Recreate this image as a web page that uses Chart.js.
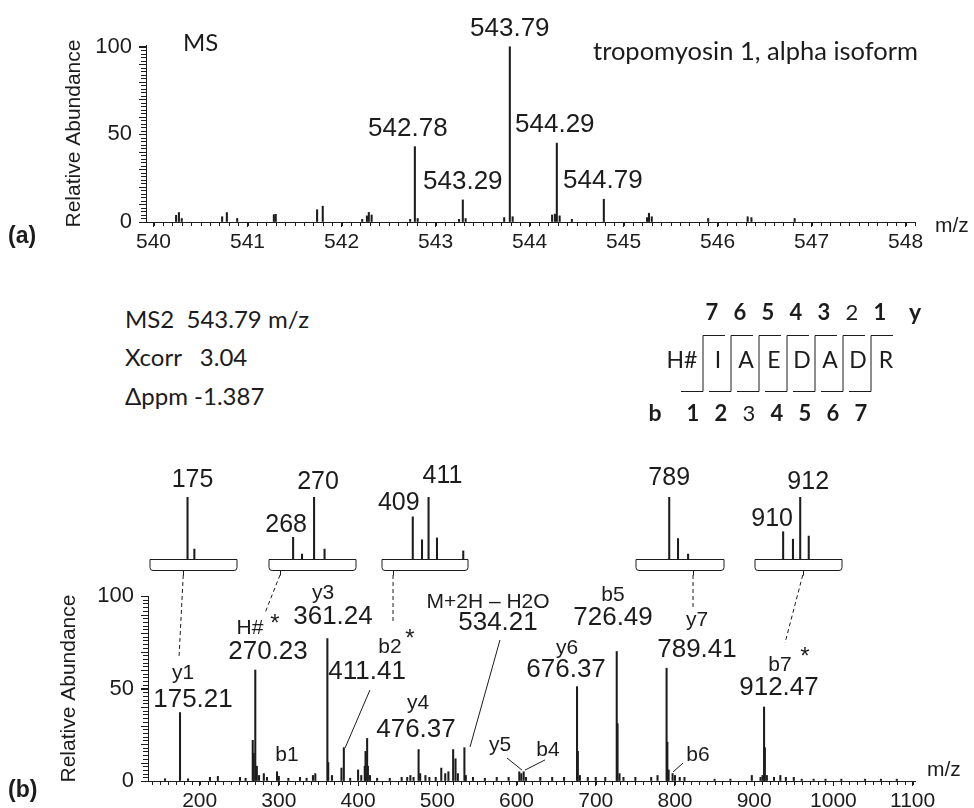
<!DOCTYPE html>
<html>
<head>
<meta charset="utf-8">
<script src="https://cdn.jsdelivr.net/npm/chart.js@4.4.1/dist/chart.umd.min.js"></script>
<style>
  body { margin: 0; background: #fff; }
  #page { position: relative; width: 974px; height: 808px; overflow: hidden; color: #1c1c1c; font-family: Lato, sans-serif; }
  canvas { position: absolute; }
  .info { position: absolute; left: 125px; font-size: 24px; line-height: 24px; white-space: pre; }
  svg { position: absolute; left: 0; top: 0; }
</style>
</head>
<body>
<div id="page">
  <canvas id="ms1" width="974" height="262" style="left:0;top:0"></canvas>
  <canvas id="ms2" width="974" height="368" style="left:0;top:440px"></canvas>

  <div class="info" style="top:307px">MS2  543.79 m/z</div>
  <div class="info" style="top:345px">Xcorr   3.04</div>
  <div class="info" style="top:384px">Δppm -1.387</div>
  <svg id="seq" width="974" height="440"></svg>
</div>

<script>
// ---- MS survey scan (a) ----
const ms1Mz  = [540.24, 540.27, 540.30, 540.73, 540.78, 540.89, 541.28, 541.30, 541.74, 541.80,
                542.22, 542.27, 542.29, 542.32, 542.73, 542.78, 542.81, 543.25, 543.29, 543.32,
                543.73, 543.79, 543.82, 544.24, 544.27, 544.29, 544.32, 544.45, 544.79, 545.25,
                545.27, 545.30, 545.90, 546.32, 546.36, 546.82]
const ms1Int = [3.8, 5.4, 2.0, 3.0, 5.4, 2.0, 4.2, 4.4, 7.0, 9.0,
                1.5, 3.5, 5.5, 4.0, 1.5, 43, 2.0, 1.5, 12.6, 2.0,
                2.5, 100, 3.0, 4.0, 4.5, 45, 3.5, 1.5, 13, 2.5,
                5.0, 3.0, 2.0, 3.0, 2.5, 2.0]
const ms1LabelMz = [542.78, 543.29, 543.79, 544.29, 544.79]
const ms1XTicks = [540, 541, 542, 543, 544, 545, 546, 547, 548]
const yTicks = [0, 50, 100]

// ---- MS2 spectrum (b) ----
const ms2Mz  = [156.3, 175.21, 185.3, 213, 223, 251, 258, 267, 268.2, 270.23,
                272.2, 275, 281, 285, 297.7, 300, 312, 326.7, 335, 343,
                346, 361.24, 362.3, 367, 379, 382, 390, 400, 404, 408.4,
                409.4, 411.41, 412.4, 415, 424, 440, 455, 462, 466, 470,
                476.37, 478.4, 485, 490, 498, 505, 510, 514, 520, 523,
                526, 534.21, 536, 545, 560, 575, 590, 603.5, 606, 609,
                612, 630, 645, 660, 676.37, 677.4, 680, 690, 700, 712,
                726.49, 727.5, 730, 735, 750, 770, 778, 789.41, 790.4, 792,
                797, 800, 806, 812, 850, 870, 897, 908, 910.5, 912.47,
                913.5, 916, 925, 933, 940, 950, 960, 975, 990, 1010,
                1040, 1060, 1080]
const ms2Int = [1.2, 37, 1.2, 2, 2.5, 2, 1.5, 22, 15, 60,
                8, 3, 4, 2, 5, 2.5, 1.5, 2, 1.5, 3,
                4, 77, 10, 3, 7, 18, 1.5, 6, 3, 8,
                16, 23, 8, 3, 1.5, 1.5, 2, 2, 3, 2,
                17, 4, 3, 2, 2, 7, 4, 5, 17, 12,
                4, 18, 3, 2, 1.5, 2, 2, 5, 4, 5,
                2, 2, 2, 2, 51, 16, 3, 2, 2, 2,
                70, 31, 4, 2, 2, 2, 3, 61, 21, 6,
                4, 3, 2, 2, 1, 1, 3, 2, 3, 40,
                18, 3, 2, 3, 2, 2, 1, 1, 1, 1,
                1, 1, 1]
const ms2XTicks = [200, 300, 400, 500, 600, 700, 800, 900, 1000, 1100]

// annotations: text, anchor m/z, anchor abundance, kind
const ms2Notes = [
  ['175.21', 191.6, 43.8, 'num'], ['y1', 179.0, 58.4, 'ion'],
  ['270.23', 286.3, 69.7, 'num'], ['H#', 263.6, 82.7, 'ion'], ['*', 295.1, 87.0, 'star'],
  ['b1', 310.3, 14.1, 'ion'],
  ['361.24', 368.3, 88.6, 'num'], ['y3', 355.7, 101.6, 'ion'],
  ['411.41', 411.3, 58.9, 'num'], ['b2', 440.3, 72.4, 'ion'], ['*', 465.5, 78.9, 'star'],
  ['476.37', 473.1, 27.6, 'num'], ['y4', 475.6, 42.2, 'ion'],
  ['534.21', 576.6, 85.4, 'num'], ['M+2H \u2013 H2O', 564.0, 96.8, 'ion'],
  ['y5', 579.1, 19.5, 'ion'], ['b4', 639.7, 16.8, 'ion'],
  ['676.37', 662.5, 60.0, 'num'], ['y6', 663.7, 71.9, 'ion'],
  ['726.49', 721.8, 88.1, 'num'], ['b5', 721.8, 100.5, 'ion'],
  ['789.41', 827.8, 70.8, 'num'], ['y7', 827.8, 87.0, 'ion'],
  ['b6', 829.1, 14.1, 'ion'],
  ['912.47', 931.3, 50.3, 'num'], ['b7', 932.6, 62.7, 'ion'], ['*', 964.2, 69.2, 'star']
]
// leader lines [mz1, ab1, mz2, ab2]
const ms2Leaders = [
  [415.0, 49.2, 383.5, 17.8],
  [579.1, 76.2, 541.3, 18.4],
  [588.0, 12.4, 606.9, 5.9],
  [636.0, 11.4, 610.7, 5.9],
  [810.2, 9.7, 797.6, 4.9]
]

// ---- zoomed insets ----
const insetMz  = [[175.0, 175.8], [268.0, 268.85, 270.0, 271.0], [409.0, 410.17, 411.0, 412.07, 415.4],
                  [789.0, 789.98, 791.1], [910.0, 911.15, 912.0, 913.0]]
const insetInt = [[100, 16], [35, 8, 100, 16], [68, 31, 100, 34, 13], [100, 33, 8], [44, 32, 100, 37]]
const insetRange = [[170.6, 180.8], [265.7, 274.0], [405.1, 416.0], [785.3, 795.1], [906.7, 916.9]]
const insetTagMz = [[175], [268, 270], [409, 411], [789], [910, 912]]
const insetTickMz = [174.5, 266.75, 406.5, 791.65, 912.3]
const insetTarget = [[173.9, 66.5], [282.5, 90.8], [444.1, 85.4], [822.8, 94.1], [938.9, 74.6]]

// ---- peptide ----
const residues = ['I', 'A', 'E', 'D', 'A', 'D', 'R']
const yIons = [7, 6, 5, 4, 3, 2, 1]
const yFound = [7, 6, 5, 4, 3, 1]
const bIons = [1, 2, 3, 4, 5, 6, 7]
const bFound = [1, 2, 4, 5, 6, 7]

// layout bits (pixels)
const insetBox = [[150, 237], [269, 356], [382, 468], [636, 724], [755, 842]]
const insetTagOff = [[[5, -17]], [[-7, -12], [4, -15]], [[-14, -14], [14, -21]], [[0, -19]], [[-11, -13], [8, -15]]]
const ms1LabelDx = [-7, 0, 0, -2, -1]

const INK = '#1c1c1c'
const ARIAL = "'Liberation Sans', Arial, sans-serif"
Chart.defaults.font.family = ARIAL
Chart.defaults.color = INK

function text(ctx, s, x, y, size, opts = {}) {
  ctx.save()
  ctx.font = (opts.bold ? 'bold ' : '') + size + 'px ' + (opts.family || ARIAL)
  ctx.fillStyle = INK
  ctx.textAlign = opts.align || 'center'
  ctx.textBaseline = opts.baseline || 'middle'
  ctx.fillText(s, x, y)
  ctx.restore()
}

function seg(ctx, x1, y1, x2, y2, dash) {
  ctx.save()
  ctx.strokeStyle = INK
  ctx.lineWidth = 1
  if (dash) ctx.setLineDash(dash)
  ctx.beginPath()
  ctx.moveTo(x1, y1)
  ctx.lineTo(x2, y2)
  ctx.stroke()
  ctx.restore()
}

// small ticks between the labelled ones
function minorTicks(ctx, scale, values, len, longEvery, longLen) {
  values.forEach((v, i) => {
    if (v < scale.min || v > scale.max) return
    const l = (longEvery && i % longEvery === 0) ? longLen : len
    if (scale.isHorizontal()) {
      const x = Math.round(scale.getPixelForValue(v)) + 0.5
      seg(ctx, x, scale.top, x, scale.top + l)
    } else {
      const y = Math.round(scale.getPixelForValue(v)) + 0.5
      seg(ctx, scale.right - l, y, scale.right, y)
    }
  })
}

function range(a, b, step) {
  const out = []
  for (let i = 0; a + i * step <= b + 1e-9; i++) out.push(+(a + i * step).toFixed(4))
  return out
}

function specScales(xMin, xMax, xTicks, yMax, yWidth, xHeight, titlePad) {
  return {
    x: {
      type: 'linear', min: xMin, max: xMax, offset: false,
      afterBuildTicks: s => { s.ticks = xTicks.map(v => ({ value: v })) },
      afterFit: s => { s.height = xHeight },
      ticks: { font: { size: 21 }, padding: 3, maxRotation: 0, autoSkip: false, callback: v => String(v) },
      grid: { display: true, drawOnChartArea: false, tickLength: 5, color: INK, offset: false },
      border: { display: true, color: INK, width: 1 }
    },
    y: {
      min: 0, max: yMax,
      afterBuildTicks: s => { s.ticks = yTicks.map(v => ({ value: v })) },
      afterFit: s => { s.width = yWidth },
      ticks: { font: { size: 22 }, padding: 7 },
      grid: { display: true, drawOnChartArea: false, tickLength: 7, color: INK },
      border: { display: true, color: INK, width: 1 },
      title: { display: true, text: 'Relative Abundance', font: { size: 21 }, color: INK, padding: { top: titlePad, bottom: 0 } }
    }
  }
}

function sticks(mz, ab) {
  return [{ data: mz.map((x, i) => ({ x, y: ab[i] })), backgroundColor: INK, barThickness: 1.4, grouped: false }]
}

// ---------- (a) ----------
const ms1Decor = {
  id: 'ms1Decor',
  afterDraw(chart) {
    const { ctx, scales: { x, y }, chartArea } = chart
    minorTicks(ctx, x, range(539.9, 548.1, 0.1), 4)
    minorTicks(ctx, y, range(0, 100, 2), 5, 5, 7)
    ms1LabelMz.forEach((mz, i) => {
      const k = ms1Mz.indexOf(mz)
      const px = x.getPixelForValue(mz) + ms1LabelDx[i]
      const py = y.getPixelForValue(ms1Int[k]) - 11
      text(ctx, mz.toFixed(2), px, py, 26, { baseline: 'alphabetic' })
    })
    text(ctx, 'MS', 183, 43, 24, { align: 'left', family: 'Lato, sans-serif' })
    text(ctx, 'tropomyosin 1, alpha isoform', 593, 52, 25.5, { align: 'left', family: 'Lato, sans-serif' })
    text(ctx, 'm/z', chartArea.right + 20, 226, 21, { align: 'left' })
    text(ctx, '(a)', 8, 237, 23, { align: 'left', bold: true })
  }
}

new Chart(document.getElementById('ms1'), {
  type: 'bar',
  data: { datasets: sticks(ms1Mz, ms1Int) },
  options: {
    responsive: false, animation: false,
    layout: { padding: { top: 45, right: 59, left: 0, bottom: 0 } },
    plugins: { legend: { display: false }, tooltip: { enabled: false } },
    scales: specScales(539.92, 548.1, ms1XTicks, 101, 146, 40, 62)
  },
  plugins: [ms1Decor]
})

// ---------- insets ----------
const insetCharts = insetMz.map((mz, n) => {
  const [l, r] = insetBox[n]
  const cv = document.createElement('canvas')
  cv.width = r - l + 50
  cv.height = 125
  cv.style.left = (l - 25) + 'px'
  cv.style.top = '455px'
  document.getElementById('page').appendChild(cv)
  const decor = {
    id: 'insetDecor',
    afterDraw(chart) {
      const { ctx, chartArea: ca, scales: { x, y } } = chart
      const b = ca.bottom + 0.5, h = 11, rad = 3
      ctx.save()
      ctx.strokeStyle = INK
      ctx.lineWidth = 1
      ctx.beginPath()
      ctx.moveTo(ca.left, b)
      ctx.lineTo(ca.left, b + h - rad)
      ctx.quadraticCurveTo(ca.left, b + h, ca.left + rad, b + h)
      ctx.lineTo(ca.right - rad, b + h)
      ctx.quadraticCurveTo(ca.right, b + h, ca.right, b + h - rad)
      ctx.lineTo(ca.right, b)
      ctx.closePath()
      ctx.stroke()
      ctx.restore()
      const tx = Math.round(x.getPixelForValue(insetTickMz[n])) + 0.5
      seg(ctx, tx, b + h, tx, b + h + 5)
      insetTagMz[n].forEach((t, j) => {
        const k = mz.indexOf(t)
        const [dx, dy] = insetTagOff[n][j]
        text(ctx, String(t), x.getPixelForValue(t) + dx, y.getPixelForValue(insetInt[n][k]) + dy, 25)
      })
    }
  }
  return new Chart(cv, {
    type: 'bar',
    data: { datasets: sticks(mz, insetInt[n]) },
    options: {
      responsive: false, animation: false,
      layout: { padding: { top: 42, bottom: 21, left: 25, right: 25 } },
      plugins: { legend: { display: false }, tooltip: { enabled: false } },
      scales: {
        x: { type: 'linear', display: false, min: insetRange[n][0], max: insetRange[n][1], offset: false },
        y: { display: false, min: 0, max: 100 }
      }
    },
    plugins: [decor]
  })
})

// ---------- (b) ----------
const ms2Decor = {
  id: 'ms2Decor',
  afterDraw(chart) {
    const { ctx, scales: { x, y }, chartArea, canvas } = chart
    minorTicks(ctx, x, range(140, 1100, 10), 4)
    minorTicks(ctx, y, range(0, 100, 2), 5, 5, 7)
    const sizes = { num: 26, ion: 21, star: 24 }
    ms2Notes.forEach(([s, mz, ab, kind]) => {
      text(ctx, s, x.getPixelForValue(mz), y.getPixelForValue(ab) + (kind === 'star' ? 4 : 0), sizes[kind])
    })
    ms2Leaders.forEach(([m1, a1, m2, a2]) => {
      seg(ctx, x.getPixelForValue(m1), y.getPixelForValue(a1), x.getPixelForValue(m2), y.getPixelForValue(a2))
    })
    // dashed links from each zoom box down to its peak
    insetCharts.forEach((ic, n) => {
      const sx = ic.canvas.offsetLeft + ic.scales.x.getPixelForValue(insetTickMz[n]) - canvas.offsetLeft
      const sy = ic.canvas.offsetTop + ic.chartArea.bottom + 16 - canvas.offsetTop
      const [tm, ta] = insetTarget[n]
      seg(ctx, sx, sy, x.getPixelForValue(tm), y.getPixelForValue(ta), [4, 3])
    })
    text(ctx, 'm/z', chartArea.right + 12, chartArea.bottom - 11, 21, { align: 'left' })
    text(ctx, '(b)', 8, chartArea.bottom + 10, 23, { align: 'left', bold: true })
  }
}

new Chart(document.getElementById('ms2'), {
  type: 'bar',
  data: { datasets: sticks(ms2Mz, ms2Int) },
  options: {
    responsive: false, animation: false,
    layout: { padding: { top: 156, right: 59, left: 0, bottom: 0 } },
    plugins: { legend: { display: false }, tooltip: { enabled: false } },
    scales: specScales(134.8, 1103, ms2XTicks, 100, 148, 27, 57)
  },
  plugins: [ms2Decor]
})

// ---------- peptide fragment map ----------
const svg = document.getElementById('seq')
const NS = 'http://www.w3.org/2000/svg'
function svgText(s, x, y, size, bold) {
  const t = document.createElementNS(NS, 'text')
  t.setAttribute('x', x)
  t.setAttribute('y', y)
  t.setAttribute('text-anchor', 'middle')
  t.setAttribute('font-family', 'Lato, sans-serif')
  t.setAttribute('font-size', size)
  t.setAttribute('fill', INK)
  if (bold) t.setAttribute('font-weight', 'bold')
  t.textContent = s
  svg.appendChild(t)
}
const sep0 = 703, step = 28
let d = ''
residues.forEach((r, i) => {
  const sx = sep0 + i * step
  svgText(r, sx + 15, 368, 23)
  d += `M${sx - 22} 391.5H${sx}V335.5H${sx + 22}`
  svgText(String(yIons[i]), sx + 9, 320, 22, yFound.includes(yIons[i]))
  svgText(String(bIons[i]), sx - 10, 421, 22, bFound.includes(bIons[i]))
})
svgText('H#', 682, 368, 23)
svgText('y', 915, 320, 23, true)
svgText('b', 655, 421, 23, true)
const p = document.createElementNS(NS, 'path')
p.setAttribute('d', d)
p.setAttribute('fill', 'none')
p.setAttribute('stroke', INK)
p.setAttribute('stroke-width', '1')
svg.appendChild(p)
</script>
</body>
</html>
